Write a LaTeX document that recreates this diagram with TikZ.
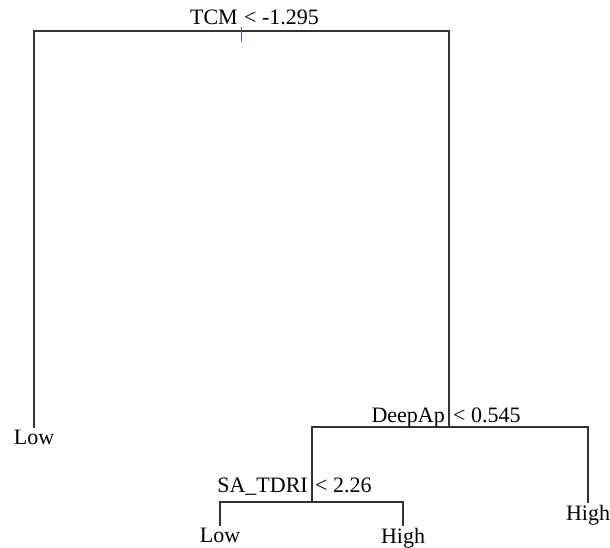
\documentclass[tikz,border=0pt]{standalone}
\usepackage{fontspec}
\setmainfont{Liberation Serif}
\usepackage{tikz}
\usetikzlibrary{positioning}
\tikzset{
  branch/.style={draw=black!80, line width=1.3pt},
  leaf/.style={anchor=north, inner sep=2pt, font=\fontsize{22}{26}\selectfont},
  varlab/.style={anchor=base east, inner sep=1pt, font=\fontsize{22}{26}\selectfont},
  thrlab/.style={anchor=base west, inner sep=1pt, font=\fontsize{22}{26}\selectfont},
  splittick/.style={draw={rgb,255:red,95;green,70;blue,150}, line width=1pt}
}

\begin{document}
\begin{tikzpicture}[x=1pt,y=-1pt]
  \useasboundingbox (0,0) rectangle (610,548);
  % split points
  \coordinate (root) at (241,31);
  \coordinate (deep) at (449,427);
  \coordinate (sa) at (312,502);
  % leaves
  \node[leaf] (lowA) at (34,428) {Low};
  \node[leaf] (highA) at (588,503) {High};
  \node[leaf] (lowB) at (220,526) {Low};
  \node[leaf] (highB) at (403,526) {High};
  % branches
  \draw[branch] (lowA.north) |- (root);
  \draw[branch] (deep) |- (root);
  \draw[branch] (sa) |- (deep);
  \draw[branch] (highA.north) |- (deep);
  \draw[branch] (lowB.north) |- (sa);
  \draw[branch] (highB.north) |- (sa);
  \coordinate (tickA) at (241,27);
  \coordinate (tickB) at (241,42);
  \draw[splittick] (tickA) -- (tickB);
  % split labels
  \node[varlab] (tcmvar) at (239,25) {TCM};
  \node[thrlab] (tcmthr) at (243,25) {< -1.295};
  \node[varlab] (deepvar) at (446,422) {DeepAp};
  \node[thrlab] (deepthr) at (452,422) {< 0.545};
  \node[varlab] (savar) at (309,492) {SA\_TDRI};
  \node[thrlab] (sathr) at (314,492) {< 2.26};
\end{tikzpicture}
\end{document}
